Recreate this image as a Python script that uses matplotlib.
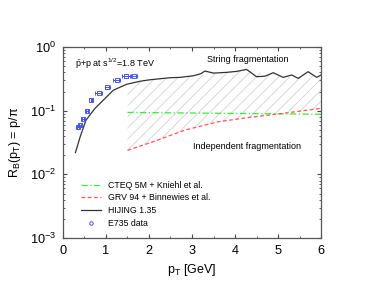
import matplotlib
matplotlib.use('Agg')
import matplotlib.pyplot as plt
from matplotlib.lines import Line2D

plt.rcParams['font.family'] = ['Liberation Sans', 'DejaVu Sans']
plt.rcParams['mathtext.fontset'] = 'custom'
plt.rcParams['mathtext.rm'] = 'Liberation Sans'
plt.rcParams['mathtext.it'] = 'Liberation Sans:italic'
plt.rcParams['hatch.linewidth'] = 0.6

# E735 data (p/pi)
e735_pt = [0.35, 0.40, 0.46, 0.565, 0.66, 0.83, 1.03, 1.25, 1.46, 1.65]
e735_r = [0.055, 0.060, 0.074, 0.100, 0.147, 0.191, 0.233, 0.303, 0.347, 0.354]
e735_xerr = [0.02, 0.02, 0.02, 0.02, 0.02, 0.08, 0.06, 0.08, 0.09, 0.08]

# HIJING 1.35
hij_pt = [0.29, 0.40, 0.535, 0.745, 0.94, 1.17, 1.48, 1.79, 2.0, 2.3, 2.5, 2.72, 3.03,
          3.2, 3.30, 3.5, 3.8, 4.04, 4.27, 4.5, 4.7, 4.89, 5.12, 5.32, 5.47, 5.7, 5.9, 6.0]
hij_r = [0.022, 0.039, 0.071, 0.109, 0.147, 0.21, 0.26, 0.29, 0.305, 0.32, 0.33, 0.334, 0.354,
         0.38, 0.42, 0.39, 0.40, 0.415, 0.445, 0.342, 0.349, 0.395, 0.334, 0.364, 0.322, 0.41, 0.334, 0.364]

# GRV 94 + Binnewies et al.
grv_pt = [1.5, 2.1, 2.84, 3.61, 4.35, 5.12, 6.0]
grv_r = [0.0238, 0.0326, 0.0497, 0.0671, 0.0787, 0.0908, 0.109]

# CTEQ 5M + Kniehl et al.
cteq_pt = [1.5, 3.0, 4.5, 6.0]
cteq_r = [0.094, 0.092, 0.090, 0.088]

# HIJING values on the GRV grid, upper edge of the hatched band
band_top = [0.265, 0.31, 0.334, 0.39, 0.43, 0.334, 0.364]

fig = plt.figure(figsize=(3.85, 2.96), dpi=100)
ax = fig.add_axes([0.1636, 0.196, 0.6702, 0.645])

ax.fill_between(grv_pt, grv_r, band_top, facecolor='none', edgecolor='#d2d2d2',
                hatch='///', linewidth=0)

ax.plot(cteq_pt, cteq_r, color='#33ee33', lw=0.9, ls=(0, (5, 2, 1, 2)),
        label='CTEQ 5M + Kniehl et al.')
ax.plot(grv_pt, grv_r, color='#ff5555', lw=0.9, ls=(0, (3, 2)),
        label='GRV 94 + Binnewies et al.')
ax.plot(hij_pt, hij_r, color='#333333', lw=0.9, label='HIJING 1.35')
ax.errorbar(e735_pt, e735_r, xerr=e735_xerr, fmt='s', ms=3.4, mfc='none', mec='#4455ee',
            ecolor='#4455ee', elinewidth=0.7, mew=0.7, capsize=1.5)

handles, labels = ax.get_legend_handles_labels()
handles.append(Line2D([], [], ls='none', marker='o', ms=2.5, mfc='none', mec='#4455ee', mew=0.7))
labels.append('E735 data')
ax.legend(handles, labels, loc='upper left', bbox_to_anchor=(0.07, 0.30), frameon=False,
          fontsize=6.3, borderpad=0, borderaxespad=0, labelspacing=0.42,
          handlelength=2.3, handletextpad=0.8, numpoints=1)

ax.text(0.28, 0.55, r'$\bar{\rm p}$+p at s$^{1/2}$=1.8 TeV', fontsize=6.5, va='center')
ax.text(4.3, 0.63, 'String fragmentation', fontsize=6.5, ha='center', va='center')
ax.text(4.28, 0.027, 'Independent fragmentation', fontsize=6.5, ha='center', va='center')

ax.set_yscale('log')
ax.set_xlim(0, 6)
ax.set_ylim(1e-3, 1)
ax.set_xticks(range(0, 7))
ax.set_xticks([0.5, 1.5, 2.5, 3.5, 4.5, 5.5], minor=True)
ax.tick_params(which='both', direction='in', top=True, right=True, colors='#444444',
               labelcolor='black', labelsize=9.2, pad=5)
ax.tick_params(which='major', length=3)
ax.tick_params(which='minor', length=1.6)
for s in ax.spines.values():
    s.set_color('#555555')
    s.set_linewidth(0.9)

ax.set_xlabel(r'p$_{\rm T}$ [GeV]', fontsize=9, labelpad=4)
ax.set_ylabel(r'R$_{\rm B}$(p$_{\rm T}$) = p/π', fontsize=9, labelpad=5)

fig.savefig('out.png', dpi=100)
